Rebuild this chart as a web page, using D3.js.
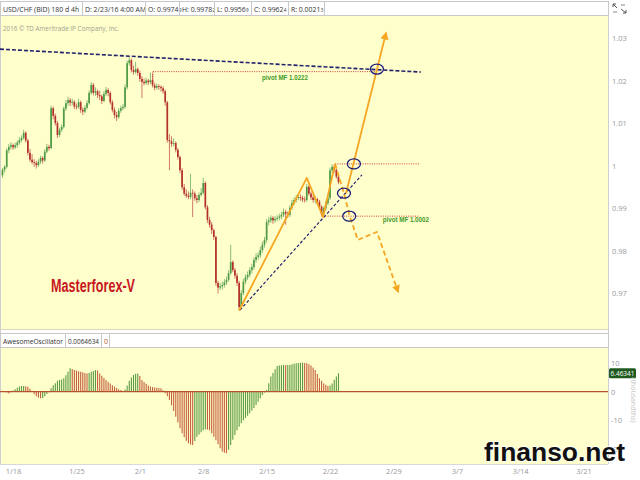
<!DOCTYPE html>
<html><head><meta charset="utf-8">
<script src="https://cdn.jsdelivr.net/npm/d3@7/dist/d3.min.js"></script>
<style>html,body{margin:0;padding:0;background:#fff;}svg{display:block;}</style>
</head><body>
<svg id="c" width="640" height="480"></svg>
<script>
// ---- data (USD/CHF 4h candles) ----
const open = [0.9978,0.9991,0.9998,1.0037,1.0045,1.0049,1.0044,1.0049,1.0055,1.0061,1.0066,1.0078,1.0060,1.0031,1.0015,1.0009,1.0007,1.0002,1.0010,1.0019,1.0013,1.0034,1.0045,1.0042,1.0136,1.0118,1.0101,1.0073,1.0085,1.0092,1.0135,1.0148,1.0155,1.0149,1.0151,1.0140,1.0139,1.0150,1.0132,1.0128,1.0137,1.0148,1.0172,1.0191,1.0172,1.0176,1.0167,1.0164,1.0153,1.0170,1.0179,1.0172,1.0150,1.0132,1.0120,1.0115,1.0130,1.0136,1.0139,1.0185,1.0242,1.0249,1.0226,1.0221,1.0228,1.0219,1.0205,1.0198,1.0195,1.0201,1.0197,1.0202,1.0190,1.0184,1.0188,1.0186,1.0183,1.0176,1.0150,1.0061,1.0058,1.0052,1.0054,1.0038,1.0021,0.9990,0.9950,0.9935,0.9930,0.9927,0.9937,0.9935,0.9924,0.9920,0.9932,0.9937,0.9960,0.9903,0.9873,0.9862,0.9849,0.9833,0.9725,0.9714,0.9717,0.9720,0.9726,0.9732,0.9748,0.9774,0.9755,0.9742,0.9725,0.9668,0.9701,0.9728,0.9738,0.9744,0.9755,0.9762,0.9779,0.9786,0.9790,0.9802,0.9815,0.9826,0.9868,0.9872,0.9878,0.9872,0.9876,0.9878,0.9881,0.9885,0.9892,0.9888,0.9885,0.9902,0.9913,0.9920,0.9925,0.9927,0.9925,0.9921,0.9920,0.9951,0.9935,0.9926,0.9920,0.9922,0.9916,0.9904,0.9886,0.9900,0.9912,0.9925,0.9990,0.9998,0.9991,0.9975];
const high = [0.9995,1.0002,1.0042,1.0052,1.0056,1.0053,1.0055,1.0060,1.0068,1.0072,1.0085,1.0082,1.0064,1.0040,1.0028,1.0016,1.0012,1.0016,1.0024,1.0023,1.0040,1.0052,1.0050,1.0142,1.0140,1.0123,1.0106,1.0090,1.0098,1.0140,1.0155,1.0163,1.0160,1.0158,1.0155,1.0147,1.0158,1.0154,1.0138,1.0143,1.0155,1.0178,1.0197,1.0195,1.0185,1.0180,1.0177,1.0168,1.0176,1.0186,1.0183,1.0176,1.0155,1.0138,1.0127,1.0136,1.0142,1.0146,1.0192,1.0248,1.0257,1.0253,1.0236,1.0245,1.0232,1.0224,1.0212,1.0206,1.0208,1.0205,1.0220,1.0218,1.0196,1.0194,1.0192,1.0190,1.0188,1.0180,1.0153,1.0075,1.0070,1.0065,1.0058,1.0042,1.0025,0.9995,0.9958,0.9945,0.9940,0.9982,0.9945,0.9940,0.9932,0.9938,0.9948,0.9972,0.9964,0.9908,0.9880,0.9868,0.9853,0.9836,0.9730,0.9725,0.9728,0.9734,0.9740,0.9755,0.9815,0.9778,0.9760,0.9748,0.9730,0.9708,0.9735,0.9745,0.9752,0.9762,0.9770,0.9785,0.9795,0.9797,0.9810,0.9822,0.9833,0.9875,0.9880,0.9884,0.9882,0.9882,0.9884,0.9888,0.9892,0.9900,0.9897,0.9893,0.9908,0.9920,0.9926,0.9932,0.9935,0.9933,0.9930,0.9928,0.9958,0.9955,0.9940,0.9932,0.9928,0.9925,0.9920,0.9908,0.9905,0.9918,0.9930,0.9996,1.0004,1.0002,0.9994,0.9978];
const low = [0.9972,0.9985,0.9994,1.0030,1.0039,1.0038,1.0040,1.0043,1.0050,1.0056,1.0062,1.0055,1.0025,1.0010,1.0004,0.9998,0.9994,0.9998,1.0005,1.0006,1.0010,1.0030,1.0036,1.0040,1.0110,1.0095,1.0066,1.0068,1.0080,1.0088,1.0130,1.0142,1.0141,1.0143,1.0134,1.0133,1.0135,1.0125,1.0120,1.0124,1.0133,1.0144,1.0168,1.0166,1.0165,1.0160,1.0155,1.0146,1.0150,1.0165,1.0164,1.0145,1.0126,1.0112,1.0106,1.0111,1.0125,1.0131,1.0135,1.0180,1.0236,1.0220,1.0215,1.0217,1.0212,1.0198,1.0160,1.0190,1.0191,1.0190,1.0193,1.0185,1.0178,1.0180,1.0179,1.0175,1.0170,1.0142,1.0055,0.9990,1.0045,1.0046,1.0032,1.0015,0.9984,0.9944,0.9930,0.9925,0.9922,0.9922,0.9880,0.9918,0.9912,0.9915,0.9928,0.9933,0.9898,0.9866,0.9855,0.9840,0.9826,0.9718,0.9700,0.9708,0.9710,0.9714,0.9720,0.9728,0.9744,0.9750,0.9735,0.9718,0.9660,0.9664,0.9696,0.9722,0.9732,0.9738,0.9748,0.9756,0.9772,0.9780,0.9784,0.9796,0.9808,0.9820,0.9860,0.9866,0.9864,0.9866,0.9870,0.9872,0.9875,0.9880,0.9862,0.9878,0.9880,0.9897,0.9908,0.9914,0.9920,0.9918,0.9915,0.9914,0.9916,0.9930,0.9920,0.9914,0.9912,0.9908,0.9898,0.9881,0.9882,0.9895,0.9908,0.9920,0.9984,0.9984,0.9970,0.9957];
const close = [0.9991,0.9998,1.0037,1.0045,1.0049,1.0044,1.0049,1.0055,1.0061,1.0066,1.0078,1.0060,1.0031,1.0015,1.0009,1.0007,1.0002,1.0010,1.0019,1.0013,1.0034,1.0045,1.0042,1.0136,1.0118,1.0101,1.0073,1.0085,1.0092,1.0135,1.0148,1.0155,1.0149,1.0151,1.0140,1.0139,1.0150,1.0132,1.0128,1.0137,1.0148,1.0172,1.0191,1.0172,1.0176,1.0167,1.0164,1.0153,1.0170,1.0179,1.0172,1.0150,1.0132,1.0120,1.0115,1.0130,1.0136,1.0139,1.0185,1.0242,1.0249,1.0226,1.0221,1.0228,1.0219,1.0205,1.0198,1.0195,1.0201,1.0197,1.0202,1.0190,1.0184,1.0188,1.0186,1.0183,1.0176,1.0150,1.0061,1.0058,1.0052,1.0054,1.0038,1.0021,0.9990,0.9950,0.9935,0.9930,0.9927,0.9937,0.9935,0.9924,0.9920,0.9932,0.9937,0.9960,0.9903,0.9873,0.9862,0.9849,0.9833,0.9725,0.9714,0.9717,0.9720,0.9726,0.9732,0.9748,0.9774,0.9755,0.9742,0.9725,0.9668,0.9701,0.9728,0.9738,0.9744,0.9755,0.9762,0.9779,0.9786,0.9790,0.9802,0.9815,0.9826,0.9868,0.9872,0.9878,0.9872,0.9876,0.9878,0.9881,0.9885,0.9892,0.9888,0.9885,0.9902,0.9913,0.9920,0.9925,0.9927,0.9925,0.9921,0.9920,0.9951,0.9935,0.9926,0.9920,0.9922,0.9916,0.9904,0.9886,0.9900,0.9912,0.9925,0.9990,0.9998,0.9991,0.9975,0.9962];
// Awesome Oscillator, thousandths
const ao = [0.3,0.2,-0.3,-0.6,-0.2,0.4,0.9,1.4,1.8,2.0,2.0,1.9,1.7,1.0,0.3,-0.9,-1.6,-2.1,-2.3,-2.2,-1.6,-0.8,-0.2,1.2,2.3,3.0,3.8,4.1,4.3,4.7,5.8,7.0,8.2,8.0,7.6,7.4,7.2,7.0,6.8,6.6,6.4,6.6,7.0,7.3,7.6,7.4,6.4,5.6,4.8,4.1,3.5,2.9,2.3,1.8,1.3,0.9,0.6,0.2,0.8,2.2,3.8,5.0,5.9,6.3,6.4,5.5,4.1,3.4,2.8,2.2,1.8,1.6,1.5,1.4,1.3,1.2,0.5,-0.5,-1.6,-2.9,-4.8,-6.8,-8.8,-10.8,-12.8,-14.6,-16.0,-17.2,-18.1,-18.5,-18.7,-17.3,-15.8,-15.0,-14.2,-13.5,-13.2,-13.3,-13.5,-14.6,-15.8,-17.0,-18.4,-19.8,-21.0,-21.4,-21.6,-20.4,-18.7,-16.9,-15.2,-13.5,-12.3,-11.1,-10.0,-9.2,-8.4,-7.6,-6.6,-5.7,-4.7,-3.5,-2.3,-1.2,-0.3,0.6,3.0,5.3,6.6,7.9,9.0,9.2,9.3,9.4,9.3,9.4,9.4,9.6,9.8,10.0,10.1,10.2,10.2,10.1,10.0,9.6,9.2,8.5,7.6,6.2,4.7,3.8,2.9,2.4,2.0,2.2,2.9,4.2,5.3,6.46341];
const priceTicks = [1.03,1.02,1.01,1.00,0.99,0.98,0.97];
const priceTickLabels = ["1.03","1.02","1.01","1","0.99","0.98","0.97"];
const aoTicks = [10,0,-10,-20];
const weekIndex = [5,35,65,95,125,155,185,215,245,275];
const weekLabels = ["1/18","1/25","2/1","2/8","2/15","2/22","2/29","3/7","3/14","3/21"];
// annotations (bar index, price)
const zigzag = [[112,0.9660],[144,0.9972],[151.7,0.9880],[157.4,1.0005]];
const upArrow = [[162.6,0.9936],[181.5,1.0313]];
const downPath = [[157.4,1.0005],[161.6,0.9936],[164.3,0.9882],[168.2,0.9826],[177.2,0.9845],[187.2,0.9704]];
const circles = [[166.3,1.0005],[161.6,0.9936],[164.1,0.9882],[177.2,1.0228]];
const resistLine = [[-1.2,1.0275],[198,1.0221]];
const supportLine = [[112.4,0.9661],[170.1,0.9979]];
const pivotLines = [ {from:71.2,to:178,price:1.0222}, {from:157.4,to:197.5,price:1.0005}, {from:151.7,to:197.5,price:0.9882} ];
const pivotLabels = [ {at:122.8,price:1.0203,text:"pivot MF 1.0222"}, {at:180,price:0.9868,text:"pivot MF 1.0002"} ];
const headerItems = [["USD/CHF (BID) 180 d 4h",""],["D: 2/23/16 4:00 AM",""],["O: 0.9974","9"],["H: 0.9978","2"],["L: 0.9956","9"],["C: 0.9962","4"],["R: 0.0021","3"]];

// ---- layout ----
const svg = d3.select("#c");
const F = "'Open Sans', 'DejaVu Sans', sans-serif";
const PW = 608;
const x = d3.scaleLinear().domain([0,159]).range([2.5, 2.5+159*2.113]);
const y = d3.scaleLinear().domain([0.97,1.03]).range([293.5,38.5]);
const ya = d3.scaleLinear().domain([-10,10]).range([420.2,363.2]);

svg.append("rect").attr("width",640).attr("height",480).attr("fill","#fff");
svg.append("rect").attr("x",0).attr("y",16).attr("width",PW).attr("height",313).attr("fill","#ffffcc");
svg.append("rect").attr("x",0).attr("y",348).attr("width",PW).attr("height",116).attr("fill","#ffffcc");
svg.append("line").attr("x1",PW+0.5).attr("x2",PW+0.5).attr("y1",1).attr("y2",464).attr("stroke","#cfcfcf");
svg.append("line").attr("x1",0.5).attr("x2",0.5).attr("y1",1).attr("y2",464).attr("stroke","#cfcfcf");
svg.append("line").attr("x1",0).attr("x2",PW).attr("y1",329.5).attr("y2",329.5).attr("stroke","#d8d8c0");
svg.append("line").attr("x1",0).attr("x2",PW).attr("y1",464.5).attr("y2",464.5).attr("stroke","#d8d8d8");

// header box
svg.append("rect").attr("x",0.5).attr("y",1.5).attr("width",PW).attr("height",14).attr("fill","#fff").attr("stroke","#c8c8c8");
const hx = [3,85,148,182,217,254,291];
const seps = [82,145,179,214,251,288,324];
headerItems.forEach((t,i)=>{
  const tx = svg.append("text").attr("x",hx[i]).attr("y",11.5).attr("font-family",F).attr("font-size",6.9).attr("fill","#333").text(t[0]);
  const w = tx.node().getComputedTextLength();
  if (t[1]) svg.append("text").attr("x",hx[i]+w+0.4).attr("y",11.5).attr("font-family",F).attr("font-size",4.6)
    .attr("fill","#333").text(t[1]);
});
seps.forEach(s=>svg.append("line").attr("x1",s+0.5).attr("x2",s+0.5).attr("y1",2).attr("y2",15).attr("stroke","#c8c8c8"));
const ic = svg.append("g").attr("stroke","#555").attr("stroke-width",1).attr("fill","none");
ic.append("path").attr("d","M613,4 L617,8 M613,4 L613,7 M613,4 L616,4 M626,13 L621,9 M626,13 L626,10 M626,13 L623,13");
ic.append("path").attr("d","M613,12 L617,12 M621,5 L625,5").attr("stroke","#888");

svg.append("text").attr("x",3).attr("y",31).attr("font-family",F).attr("font-size",6.5).attr("fill","#a0a090")
  .attr("textLength",116).attr("lengthAdjust","spacingAndGlyphs").text("2016 © TD Ameritrade IP Company, Inc.");

const pa = svg.append("g").attr("transform",`translate(${PW+1},0)`)
  .call(d3.axisRight(y).tickValues(priceTicks).tickSize(0).tickPadding(3).tickFormat((d,i)=>priceTickLabels[i]));
pa.select(".domain").remove();
pa.selectAll("text").attr("font-family",F).attr("font-size",7.5).attr("fill","#999");

svg.append("clipPath").attr("id","mc").append("rect").attr("x",0).attr("y",16).attr("width",PW).attr("height",313);
const g = svg.append("g").attr("clip-path","url(#mc)");

const idx = d3.range(close.length);
const UP = "#4f9a45", DN = "#b3302b";
g.selectAll(".wick").data(idx).join("line")
  .attr("x1",i=>x(i)).attr("x2",i=>x(i)).attr("y1",i=>y(high[i])).attr("y2",i=>y(low[i]))
  .attr("stroke",i=>close[i]>=open[i]?"#7fb56f":"#c86a5e").attr("stroke-width",0.9);
g.selectAll(".body").data(idx).join("rect")
  .attr("x",i=>x(i)-0.85).attr("width",1.7)
  .attr("y",i=>y(Math.max(open[i],close[i])))
  .attr("height",i=>Math.max(0.8, Math.abs(y(open[i])-y(close[i]))))
  .attr("fill",i=>close[i]>=open[i]?UP:DN);

const L = d3.line().x(d=>x(d[0])).y(d=>y(d[1]));
g.append("path").attr("d",L(resistLine)).attr("stroke","#22226e").attr("stroke-width",1.6).attr("stroke-dasharray","4,2").attr("fill","none");
g.append("path").attr("d",L(supportLine)).attr("stroke","#22226e").attr("stroke-width",1.2).attr("stroke-dasharray","3,2").attr("fill","none");

pivotLines.forEach(p=>{
  g.append("line").attr("x1",x(p.from)).attr("x2",x(p.to)).attr("y1",y(p.price)).attr("y2",y(p.price))
   .attr("stroke","#d03a3a").attr("stroke-width",1).attr("stroke-dasharray","1,1.3");
});
g.append("line").attr("x1",x(71.2)).attr("x2",x(71.2)).attr("y1",y(1.0222)).attr("y2",y(1.0195))
  .attr("stroke","#d03a3a").attr("stroke-width",1).attr("stroke-dasharray","1,1.3");
pivotLabels.forEach(p=>{
  g.append("text").attr("x",x(p.at)).attr("y",y(p.price)).attr("font-family","'Liberation Sans',Arial,sans-serif")
   .attr("font-weight","bold").attr("font-size",7.5).attr("fill","#3f9a2a")
   .attr("textLength",46).attr("lengthAdjust","spacingAndGlyphs").text(p.text);
});

const defs = svg.append("defs");
defs.append("marker").attr("id","ah").attr("viewBox","0 0 10 10").attr("refX",8).attr("refY",5)
  .attr("markerWidth",4.5).attr("markerHeight",4.5).attr("orient","auto")
  .append("path").attr("d","M0,0 L10,5 L0,10 Z").attr("fill","#f5a623");
g.append("path").attr("d",L(zigzag)).attr("stroke","#f5a623").attr("stroke-width",1.8).attr("fill","none").attr("stroke-linejoin","round");
g.append("path").attr("d",L(upArrow)).attr("stroke","#f5a623").attr("stroke-width",1.8).attr("fill","none").attr("marker-end","url(#ah)");
g.append("path").attr("d",L(downPath)).attr("stroke","#f5a623").attr("stroke-width",1.8).attr("stroke-dasharray","5,3").attr("fill","none").attr("marker-end","url(#ah)");

circles.forEach(c=>{
  g.append("ellipse").attr("cx",x(c[0])).attr("cy",y(c[1])).attr("rx",6.5).attr("ry",5)
   .attr("fill","none").attr("stroke","#1c1c7a").attr("stroke-width",1.3);
});

svg.append("text").attr("x",51).attr("y",292).attr("font-family","'Liberation Sans Narrow','Liberation Sans',Arial,sans-serif")
  .attr("font-weight","bold").attr("font-size",18).attr("fill","#c8161e")
  .attr("textLength",84).attr("lengthAdjust","spacingAndGlyphs").text("Masterforex-V");

// ---- oscillator ----
svg.append("rect").attr("x",0.5).attr("y",333.5).attr("width",PW).attr("height",14).attr("fill","#fff").attr("stroke","#c8c8c8");
const ah = [["AwesomeOscillator",3,60,"#333"],["0.0064634",68,31,"#333"],["0",104,4,"#b5532f"]];
ah.forEach(a=>svg.append("text").attr("x",a[1]).attr("y",343.5).attr("font-family",F).attr("font-size",7.5).attr("fill",a[3])
  .attr("textLength",a[2]).attr("lengthAdjust","spacingAndGlyphs").text(a[0]));
[65,101,109].forEach(s=>svg.append("line").attr("x1",s+0.5).attr("x2",s+0.5).attr("y1",334).attr("y2",347).attr("stroke","#c8c8c8"));

svg.append("clipPath").attr("id","oc").append("rect").attr("x",0).attr("y",348).attr("width",PW).attr("height",116);
const og = svg.append("g").attr("clip-path","url(#oc)");
og.selectAll(".ao").data(idx).join("line")
  .attr("x1",i=>x(i)).attr("x2",i=>x(i)).attr("y1",ya(0)).attr("y2",i=>ya(ao[i]))
  .attr("stroke",i=>(i===0||ao[i]>=ao[i-1])?"#5a9a45":"#c4603f").attr("stroke-width",1.1);
og.append("line").attr("x1",0).attr("x2",PW).attr("y1",ya(0)).attr("y2",ya(0)).attr("stroke","#b5532f").attr("stroke-width",1.2);

const oa = svg.append("g").attr("transform",`translate(${PW+1},0)`)
  .call(d3.axisRight(ya).tickValues(aoTicks).tickSize(0).tickPadding(2).tickFormat(d=>String(d)));
oa.select(".domain").remove();
oa.selectAll("text").attr("font-family",F).attr("font-size",7.5).attr("fill","#999");
const lv = ao[ao.length-1];
svg.append("rect").attr("x",609).attr("y",ya(lv)-5).attr("width",27).attr("height",10).attr("rx",1.5).attr("fill","#1f5a1f");
svg.append("text").attr("x",622.5).attr("y",ya(lv)+3).attr("text-anchor","middle").attr("font-family",F).attr("font-size",7)
  .attr("fill","#fff").attr("textLength",24).attr("lengthAdjust","spacingAndGlyphs").text(lv.toFixed(5));
svg.append("text").attr("transform","translate(631,400) rotate(90)").attr("text-anchor","middle").attr("font-family",F)
  .attr("font-size",7).attr("fill","#c4c4c4").text("(thousandths)");

const xa = svg.append("g").attr("transform","translate(0,465)")
  .call(d3.axisBottom(x).tickValues(weekIndex).tickSize(0).tickPadding(4).tickFormat((d,i)=>weekLabels[i]));
xa.select(".domain").remove();
xa.selectAll("text").attr("font-family",F).attr("font-size",7.5).attr("fill","#999");

svg.append("text").attr("x",484).attr("y",461).attr("font-family","'Liberation Sans',Arial,sans-serif").attr("font-weight","bold")
  .attr("font-size",26).attr("fill","#111").attr("stroke","#fff").attr("stroke-width",1.5).attr("paint-order","stroke")
  .attr("textLength",141).attr("lengthAdjust","spacingAndGlyphs").text("finanso.net");
</script>
</body></html>
